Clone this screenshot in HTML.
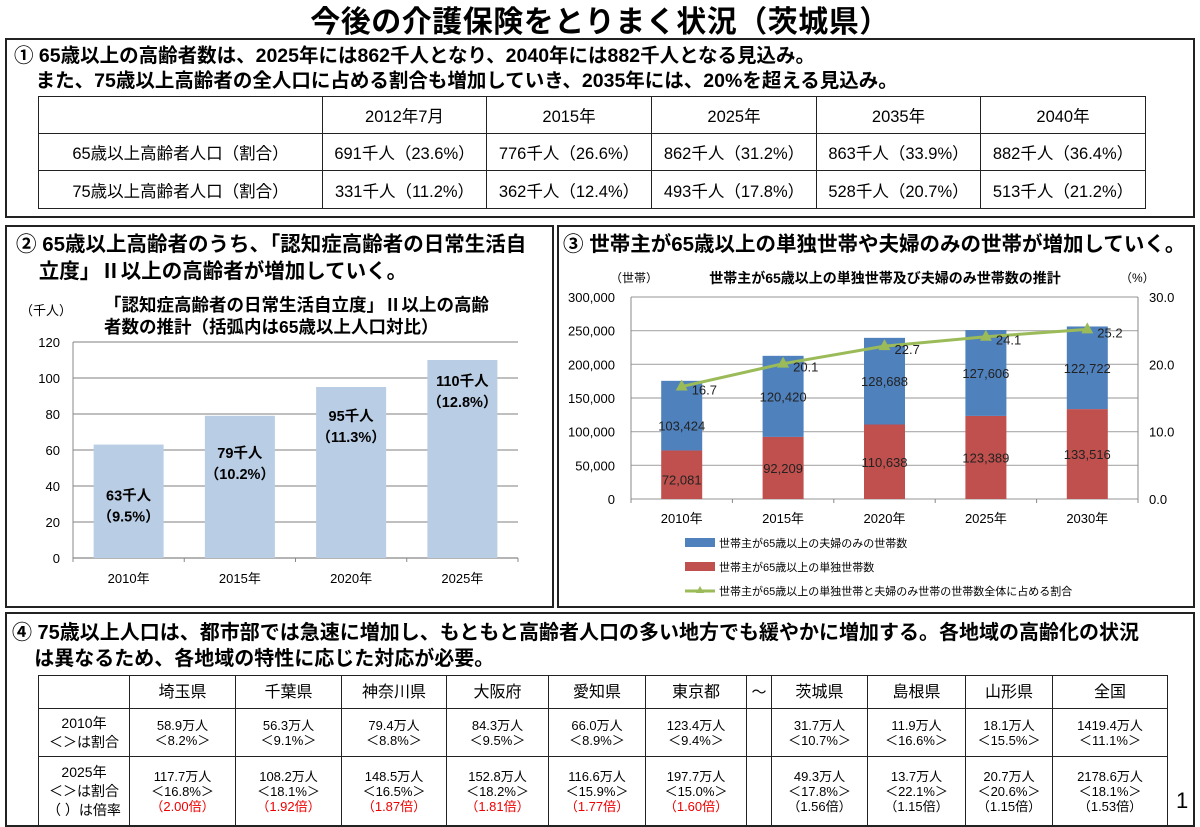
<!DOCTYPE html>
<html><head><meta charset="utf-8">
<style>
*{margin:0;padding:0;box-sizing:border-box}
body{width:1200px;height:823px;background:#fff;position:relative;overflow:hidden;font-family:"Liberation Sans","Noto Sans CJK JP",sans-serif;color:#000}
.abs{position:absolute}
.box{position:absolute;border:2px solid #222}
.h{position:absolute;font-weight:bold;white-space:nowrap;font-family:"Liberation Sans","Noto Sans CJK JP",sans-serif}
table{border-collapse:collapse;position:absolute}
td{border:1.5px solid #222;text-align:center;vertical-align:middle;font-family:"Liberation Sans","Noto Sans CJK JP",sans-serif}
.t1 td{font-size:16.5px}
.t4 td{font-size:13px;line-height:15px}
.r{color:#e00}
</style></head><body>
<div class="h" style="left:0;width:1200px;text-align:center;top:-3px;font-size:30px;letter-spacing:0.5px">今後の介護保険をとりまく状況（茨城県）</div>

<div class="box" style="left:5px;top:38px;width:1190px;height:180px"></div>
<div class="h" style="left:14px;top:44px;font-size:19.5px;line-height:25px">① 65歳以上の高齢者数は、2025年には862千人となり、2040年には882千人となる見込み。<br>&nbsp;&nbsp;&nbsp;&nbsp;また、75歳以上高齢者の全人口に占める割合も増加していき、2035年には、20%を超える見込み。</div>
<table class="t1" style="left:38px;top:96px;width:1108px">
<tr style="height:37px"><td style="width:284px"></td><td style="width:164px">2012年7月</td><td style="width:165px">2015年</td><td style="width:165px">2025年</td><td style="width:164px">2035年</td><td>2040年</td></tr>
<tr style="height:37px"><td>65歳以上高齢者人口（割合）</td><td>691千人（23.6%）</td><td>776千人（26.6%）</td><td>862千人（31.2%）</td><td>863千人（33.9%）</td><td>882千人（36.4%）</td></tr>
<tr style="height:38px"><td>75歳以上高齢者人口（割合）</td><td>331千人（11.2%）</td><td>362千人（12.4%）</td><td>493千人（17.8%）</td><td>528千人（20.7%）</td><td>513千人（21.2%）</td></tr>
</table>

<div class="box" style="left:5px;top:225px;width:549px;height:383px"></div>
<div class="h" style="left:16px;top:231px;font-size:20.5px;line-height:27px">② 65歳以上高齢者のうち、「認知症高齢者の日常生活自<br>&nbsp;&nbsp;&nbsp;&nbsp;立度」Ⅱ以上の高齢者が増加していく。</div>
<svg class="abs" style="left:0;top:0" width="560" height="610" id="c2"></svg>

<div class="box" style="left:557px;top:225px;width:638px;height:383px"></div>
<div class="h" style="left:563px;top:231px;font-size:20.5px;line-height:27px">③ 世帯主が65歳以上の単独世帯や夫婦のみの世帯が増加していく。</div>
<svg class="abs" style="left:0;top:0" width="1200" height="610" id="c3"></svg>

<div class="box" style="left:5px;top:612px;width:1190px;height:215px"></div>
<div class="h" style="left:12px;top:620px;font-size:20px;line-height:26px">④ 75歳以上人口は、都市部では急速に増加し、もともと高齢者人口の多い地方でも緩やかに増加する。各地域の高齢化の状況<br>&nbsp;&nbsp;&nbsp;&nbsp;は異なるため、各地域の特性に応じた対応が必要。</div>
<table class="t4" style="left:38px;top:675px;width:1130px">
<tr style="height:33px"><td style="width:91px"></td><td style="width:106px;font-size:16px">埼玉県</td><td style="width:106px;font-size:16px">千葉県</td><td style="width:105px;font-size:16px">神奈川県</td><td style="width:102px;font-size:16px">大阪府</td><td style="width:97px;font-size:16px">愛知県</td><td style="width:101px;font-size:16px">東京都</td><td style="width:25px;font-size:15px">～</td><td style="width:96px;font-size:16px">茨城県</td><td style="width:98px;font-size:16px">島根県</td><td style="width:87px;font-size:16px">山形県</td><td style="font-size:16px">全国</td></tr>
<tr style="height:48px"><td style="font-size:14px;line-height:19px">2010年<br>＜＞は割合</td><td>58.9万人<br>＜8.2%＞</td><td>56.3万人<br>＜9.1%＞</td><td>79.4万人<br>＜8.8%＞</td><td>84.3万人<br>＜9.5%＞</td><td>66.0万人<br>＜8.9%＞</td><td>123.4万人<br>＜9.4%＞</td><td></td><td>31.7万人<br>＜10.7%＞</td><td>11.9万人<br>＜16.6%＞</td><td>18.1万人<br>＜15.5%＞</td><td>1419.4万人<br>＜11.1%＞</td></tr>
<tr style="height:70px"><td style="font-size:14px;line-height:19px">2025年<br>＜＞は割合<br>（ ）は倍率</td><td>117.7万人<br>＜16.8%＞<br><span class="r">（2.00倍）</span></td><td>108.2万人<br>＜18.1%＞<br><span class="r">（1.92倍）</span></td><td>148.5万人<br>＜16.5%＞<br><span class="r">（1.87倍）</span></td><td>152.8万人<br>＜18.2%＞<br><span class="r">（1.81倍）</span></td><td>116.6万人<br>＜15.9%＞<br><span class="r">（1.77倍）</span></td><td>197.7万人<br>＜15.0%＞<br><span class="r">（1.60倍）</span></td><td></td><td>49.3万人<br>＜17.8%＞<br>（1.56倍）</td><td>13.7万人<br>＜22.1%＞<br>（1.15倍）</td><td>20.7万人<br>＜20.6%＞<br>（1.15倍）</td><td>2178.6万人<br>＜18.1%＞<br>（1.53倍）</td></tr>
</table>
<div class="abs" style="left:1176px;top:788px;font-size:22px">1</div>

<script>
// ---- Chart 2 data ----
const c2Years=["2010年","2015年","2020年","2025年"];
const c2Values=[63,79,95,110];
const c2Labels=["63千人","79千人","95千人","110千人"];
const c2Pcts=["（9.5%）","（10.2%）","（11.3%）","（12.8%）"];
const c2Ticks=[0,20,40,60,80,100,120];
// ---- Chart 3 data ----
const c3Years=["2010年","2015年","2020年","2025年","2030年"];
const c3Single=[72081,92209,110638,123389,133516];
const c3Couple=[103424,120420,128688,127606,122722];
const c3Ratio=[16.7,20.1,22.7,24.1,25.2];
const c3TicksL=[0,50000,100000,150000,200000,250000,300000];
const c3TicksR=[0,10,20,30];

const NS="http://www.w3.org/2000/svg";
function mk(svg,tag,attrs,txt){const e=document.createElementNS(NS,tag);for(const k in attrs)e.setAttribute(k,attrs[k]);if(txt!==undefined)e.textContent=txt;svg.appendChild(e);return e;}
const FF='"Liberation Sans","Noto Sans CJK JP",sans-serif';

// Chart 2
(function(){
const s=document.getElementById('c2');
const x0=73,x1=518,y0=558,y1=342,max=120;
const ys=v=>y0-(v/max)*(y0-y1);
const bw=(x1-x0)/c2Years.length;
let t=mk(s,'text',{x:20,y:315,'font-size':13,'font-family':FF},'（千人）');

t=mk(s,'text',{x:104,y:311,'font-size':17.5,'font-weight':'bold','font-family':FF},'「認知症高齢者の日常生活自立度」Ⅱ以上の高齢');

mk(s,'text',{x:104,y:333,'font-size':17.5,'font-weight':'bold','font-family':FF},'者数の推計（括弧内は65歳以上人口対比）');
c2Ticks.forEach(v=>{
 const g=mk(s,'line',{x1:x0,x2:x1,y1:ys(v),y2:ys(v),stroke:v?'#999':'#888','stroke-width':1.2});
 
 const l=mk(s,'text',{x:60,y:ys(v)+5,'font-size':13,'text-anchor':'end','font-family':FF},v);
 
});
mk(s,'line',{x1:x0,x2:x0,y1:y1,y2:y0+4,stroke:'#888'});
c2Years.forEach((yr,i)=>{
 const cx=x0+bw*(i+0.5);
 const b=mk(s,'rect',{x:cx-35,y:ys(c2Values[i]),width:70,height:y0-ys(c2Values[i]),fill:'#b9cde5'});
 
 mk(s,'line',{x1:x0+bw*(i+1),x2:x0+bw*(i+1),y1:y0,y2:y0+4,stroke:'#888'});
 const ly=ys(c2Values[i])+ (c2Values[i]>100?26:(c2Values[i]>90?34:(c2Values[i]>70?42:56)));
 const a=mk(s,'text',{x:cx,y:ly,'font-size':14.5,'font-weight':'bold','text-anchor':'middle','font-family':FF},c2Labels[i]);
 
 mk(s,'text',{x:cx,y:ly+21,'font-size':14.5,'font-weight':'bold','text-anchor':'middle','font-family':FF},c2Pcts[i]);
 const xl=mk(s,'text',{x:cx,y:583,'font-size':13,'text-anchor':'middle','font-family':FF},yr);
 
});
})();

// Chart 3
(function(){
const s=document.getElementById('c3');
const x0=631,x1=1138,y0=499,y1=297,max=300000,rmax=30;
const ys=v=>y0-(v/max)*(y0-y1);
const yr=v=>y0-(v/rmax)*(y0-y1);
const bw=(x1-x0)/c3Years.length;
let t=mk(s,'text',{x:610,y:282,'font-size':12,'font-family':FF},'（世帯）');

t=mk(s,'text',{x:1120,y:282,'font-size':12,'font-family':FF},'（%）');

t=mk(s,'text',{x:885,y:283,'font-size':14,'font-weight':'bold','text-anchor':'middle','font-family':FF},'世帯主が65歳以上の単独世帯及び夫婦のみ世帯数の推計');

c3TicksL.forEach(v=>{
 const g=mk(s,'line',{x1:x0,x2:x1,y1:ys(v),y2:ys(v),stroke:'#aaa','stroke-width':1.2});
 
 const l=mk(s,'text',{x:615,y:ys(v)+5,'font-size':13,'text-anchor':'end','font-family':FF},v.toLocaleString('en-US'));
 
});
c3TicksR.forEach(v=>{
 const l=mk(s,'text',{x:1149,y:yr(v)+5,'font-size':13,'font-family':FF},v.toFixed(1));
 
});
mk(s,'line',{x1:x0,x2:x0,y1:y1,y2:y0+4,stroke:'#888'});
mk(s,'line',{x1:x1,x2:x1,y1:y1,y2:y0+4,stroke:'#888'});
const pts=[];
c3Years.forEach((yrs,i)=>{
 const cx=x0+bw*(i+0.5);
 mk(s,'line',{x1:x0+bw*i,x2:x0+bw*i,y1:y0,y2:y0+4,stroke:'#888'});
 const r=mk(s,'rect',{x:cx-20.5,y:ys(c3Single[i]),width:41,height:y0-ys(c3Single[i]),fill:'#c0504d'});
 
 const tot=c3Single[i]+c3Couple[i];
 const b=mk(s,'rect',{x:cx-20.5,y:ys(tot),width:41,height:ys(c3Single[i])-ys(tot),fill:'#4f81bd'});
 
 const l1=mk(s,'text',{x:cx,y:(ys(c3Single[i])+y0)/2+5+(i==0?5:0),'font-size':13,'text-anchor':'middle','fill':'#222','font-family':FF},c3Single[i].toLocaleString('en-US'));
 
 const l2=mk(s,'text',{x:cx,y:(ys(tot)+ys(c3Single[i]))/2+5+(i==0?10:0),'font-size':13,'text-anchor':'middle','fill':'#222','font-family':FF},c3Couple[i].toLocaleString('en-US'));
 
 const xl=mk(s,'text',{x:cx,y:523,'font-size':13,'text-anchor':'middle','font-family':FF},yrs);
 
 pts.push([cx,yr(c3Ratio[i])]);
});
const pl=mk(s,'polyline',{points:pts.map(p=>p.join(',')).join(' '),fill:'none',stroke:'#9bbb59','stroke-width':3});

pts.forEach((p,i)=>{
 const m=mk(s,'polygon',{points:`${p[0]},${p[1]-7} ${p[0]-6},${p[1]+4} ${p[0]+6},${p[1]+4}`,fill:'#9bbb59'});
 
 const l=mk(s,'text',{x:p[0]+10,y:p[1]+8,'font-size':13,'fill':'#222','font-family':FF},c3Ratio[i].toFixed(1));
 
});
// legend
const lg=[['#4f81bd','世帯主が65歳以上の夫婦のみの世帯数',543],['#c0504d','世帯主が65歳以上の単独世帯数',567]];
lg.forEach(a=>{
 const r=mk(s,'rect',{x:685,y:a[2]-5,width:30,height:9,fill:a[0]});
 
 const t=mk(s,'text',{x:719,y:a[2]+4,'font-size':11,'font-family':FF},a[1]);
 
});
mk(s,'line',{x1:685,x2:715,y1:591,y2:591,stroke:'#9bbb59','stroke-width':3});
mk(s,'polygon',{points:'700,586 696,593 704,593',fill:'#9bbb59'});
const lt=mk(s,'text',{x:719,y:595,'font-size':11,'font-family':FF},'世帯主が65歳以上の単独世帯と夫婦のみ世帯の世帯数全体に占める割合');

})();
</script>
</body></html>
